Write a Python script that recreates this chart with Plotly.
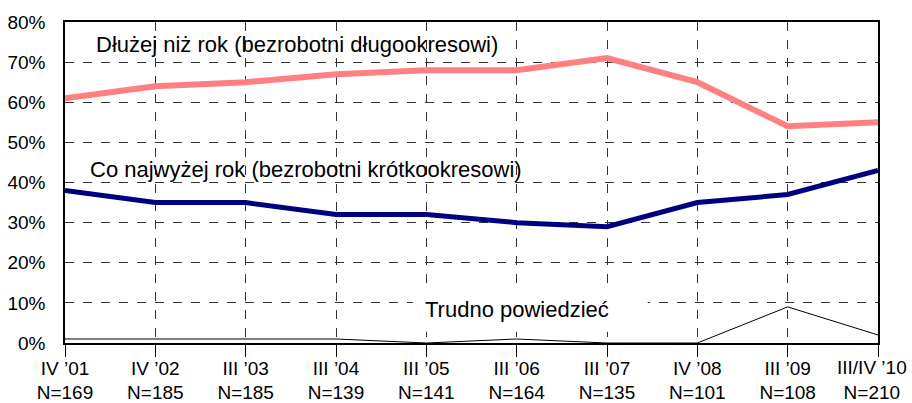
import plotly.graph_objects as go

waves = ["IV ’01", "IV ’02", "III ’03", "III ’04", "III ’05",
         "III ’06", "III ’07", "IV ’08", "III ’09", "III/IV ’10"]
sizes = [169, 185, 185, 139, 141, 164, 135, 101, 108, 210]

long_term = [61, 64, 65, 67, 68, 68, 71, 65, 54, 55]
short_term = [38, 35, 35, 32, 32, 30, 29, 35, 37, 43]
hard_to_say = [1, 1, 1, 1, 0, 1, 0, 0, 9, 2]

x = list(range(len(waves)))
ticktext = [f"{w}<br>N={n}" for w, n in zip(waves, sizes)]
# the last label sits on the page edge, so it is drawn as an annotation instead
last_label = ticktext[-1]
ticktext[-1] = ""

fig = go.Figure()
fig.add_trace(go.Scatter(x=x, y=hard_to_say, mode="lines",
                         line=dict(color="black", width=1)))
fig.add_trace(go.Scatter(x=x, y=short_term, mode="lines",
                         line=dict(color="#000080", width=5)))
fig.add_trace(go.Scatter(x=x, y=long_term, mode="lines",
                         line=dict(color="#FF8080", width=6)))

# white patch behind the "Trudno powiedzieć" label
fig.add_shape(type="rect", xref="x", yref="y", x0=3.85, x1=6.45, y0=2.8, y1=13.2,
              fillcolor="white", line_width=0, layer="between")

font = dict(family="Arial", size=22, color="black")
fig.add_annotation(x=2.57, y=74.3, text="Dłużej niż rok (bezrobotni długookresowi)",
                   showarrow=False, font=font)
fig.add_annotation(x=2.67, y=43.3, text="Co najwyżej rok (bezrobotni krótkookresowi)",
                   showarrow=False, font=font)
fig.add_annotation(x=5.0, y=8.4, text="Trudno powiedzieć",
                   showarrow=False, font=font)
fig.add_annotation(x=x[-1], y=0, xref="x", yref="paper", text=last_label,
                   showarrow=False, xanchor="center", yanchor="top",
                   xshift=-6, yshift=-12, align="center",
                   font=dict(family="Arial", size=19, color="black"))

fig.update_xaxes(range=[0, 9], tickvals=x, ticktext=ticktext, automargin=False,
                 showgrid=True, gridcolor="#333", griddash="dash", gridwidth=1,
                 ticks="outside", ticklen=12, tickcolor="black",
                 showline=True, linecolor="black", linewidth=1.5, mirror=True,
                 zeroline=False, tickfont=dict(size=19),
                 ticklabeloverflow="allow", ticklabelstandoff=-5)
fig.update_yaxes(range=[0, 80], dtick=10, ticksuffix="%", automargin=False,
                 showgrid=True, gridcolor="#333", griddash="dash", gridwidth=1,
                 showline=True, linecolor="black", linewidth=1.5, mirror=True,
                 zeroline=False, tickfont=dict(size=19), ticks="",
                 ticklabelstandoff=14)

fig.update_layout(
    width=912, height=403,
    margin=dict(l=65, r=34, t=22, b=60),
    plot_bgcolor="white", paper_bgcolor="white",
    showlegend=False,
    font=dict(family="Arial", color="black", size=19),
)

# drop the default page margin so the figure fills the window
fig.write_html("out.html", config={"displayModeBar": False},
               post_script="document.body.style.margin='0';")
